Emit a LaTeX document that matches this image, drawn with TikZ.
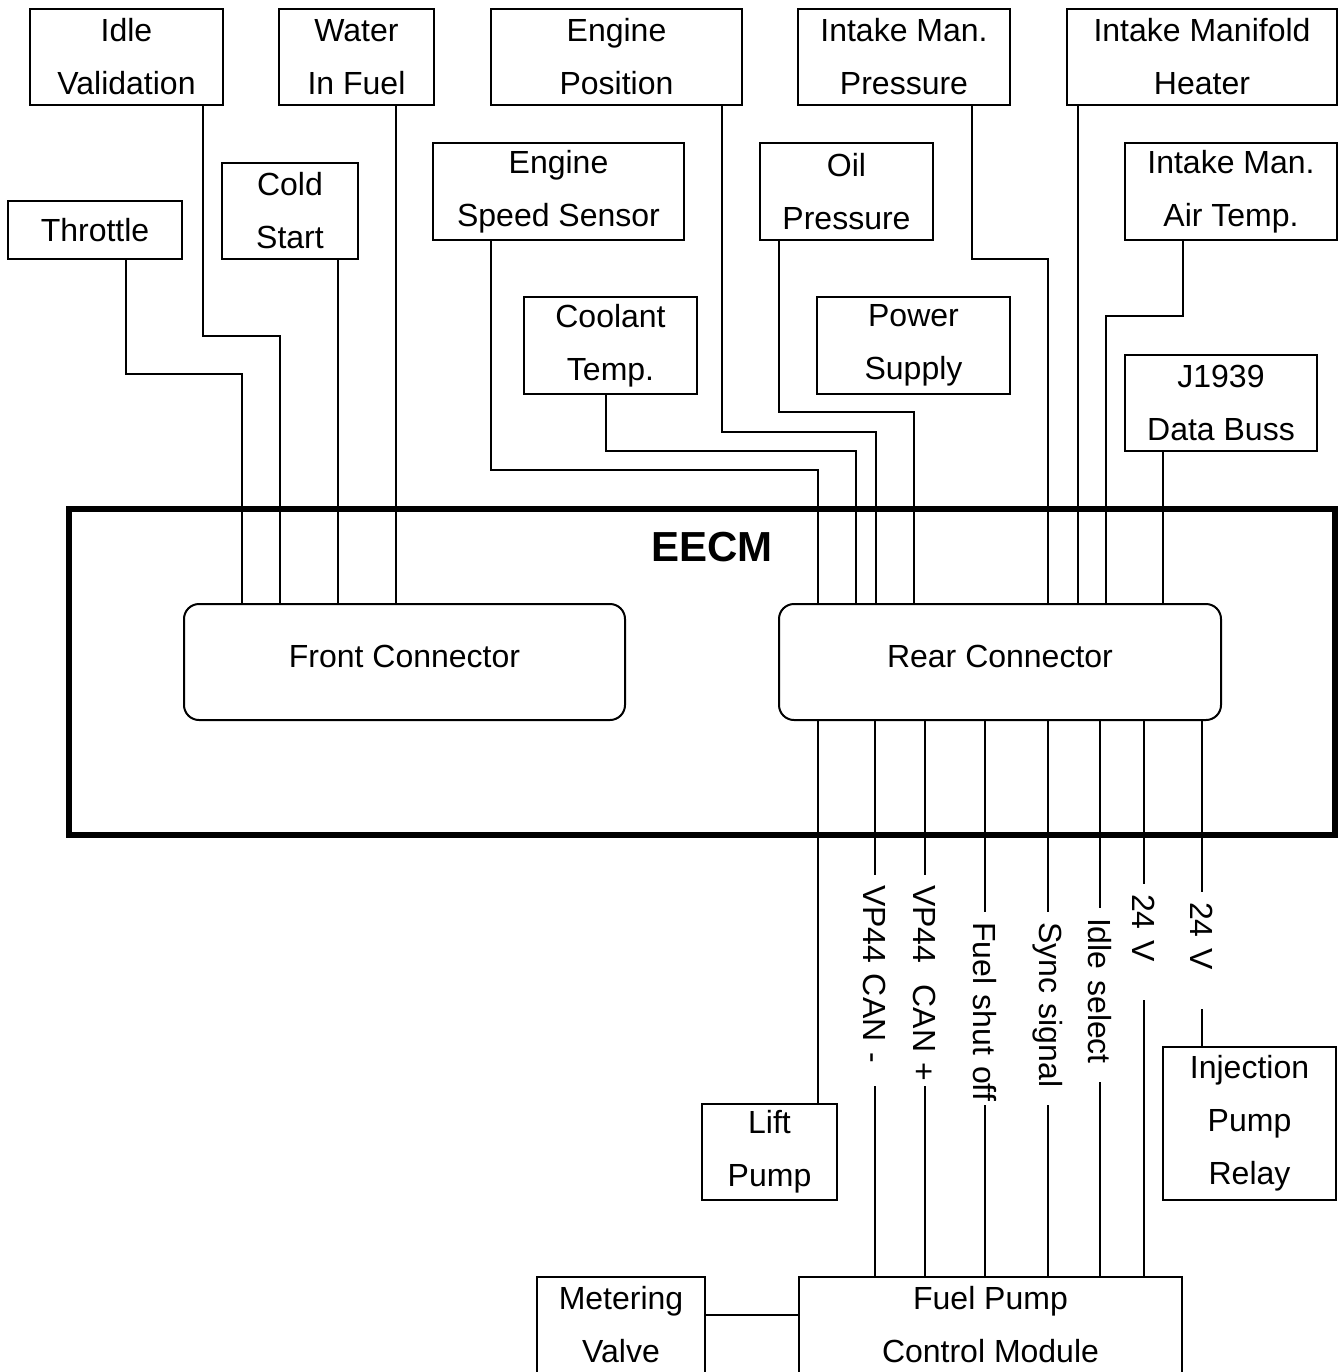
\documentclass[tikz,border=0pt]{standalone}
\usepackage{fontspec}
\setmainfont{Liberation Sans}
\usepackage{tikz}

\begin{document}
\begin{tikzpicture}[x=0.5pt, y=-0.5pt,
    every node/.style={font=\fontsize{16pt}{26.5pt}\selectfont, align=center, inner sep=0pt},
    box/.style 2 args={draw=black, line width=1pt, minimum width=#1*0.5pt, minimum height=#2*0.5pt},
    connbox/.style 2 args={box={#1}{#2}, rounded corners=7.5pt, text depth=6pt},
    wire/.style={line width=0.9pt},
    siglabel/.style 2 args={rotate=-90, inner xsep=5pt, text width=#2pt, align=left, minimum width=#1*0.5pt}]

        % Page frame, same size as the sketch
        \useasboundingbox (0,0) rectangle (1338,1372);
        \clip (0,0) rectangle (1338,1372);

        % Engine control module outline
        \node[draw=black, line width=3pt, minimum width=1266*0.5pt, minimum height=325.5*0.5pt] (eecm) at (702,671.75) {};
        \node[font=\fontsize{21pt}{25pt}\selectfont\bfseries] (eecmlabel) at (712,547) {EECM};

        % Connectors inside the module
        \node[connbox={441}{116}] (front) at (404.5,662) {Front Connector};
        \node[connbox={442}{116}] (rear) at (1000,662) {Rear Connector};

        % Sensors and actuators above the module
        \node[box={193}{96}] (idle) at (126.5,57) {Idle\\Validation};
        \node[box={155}{96}] (water) at (356.5,57) {Water\\In Fuel};
        \node[box={251}{96}] (engpos) at (616.5,57) {Engine\\Position};
        \node[box={212}{96}] (impress) at (904,57) {Intake Man.\\Pressure};
        \node[box={270}{96}] (imheater) at (1202,57) {Intake Manifold\\Heater};
        \node[box={174}{58}] (throttle) at (95,230) {Throttle};
        \node[box={136}{96}] (cold) at (290,211) {Cold\\Start};
        \node[box={251}{97}] (engspeed) at (558.5,191.5) {Engine\\Speed Sensor};
        \node[box={173}{97}] (oil) at (846.5,191.5) {Oil\\Pressure};
        \node[box={212}{97}] (imtemp) at (1231,191.5) {Intake Man.\\Air Temp.};
        \node[box={173}{97}] (coolant) at (610.5,345.5) {Coolant\\Temp.};
        \node[box={193}{97}] (power) at (913.5,345.5) {Power\\Supply};
        \node[box={192}{96}] (j1939) at (1221,403) {J1939\\Data Buss};

        % Devices below the module
        \node[box={135}{96}] (lift) at (769.5,1152) {Lift\\Pump};
        \node[box={173}{153}] (relay) at (1249.5,1123.5) {Injection\\Pump\\Relay};
        \node[box={168}{96}] (metering) at (621,1325) {Metering\\Valve};
        \node[box={383}{96}] (fpcm) at (990.5,1325) {Fuel Pump\\Control Module};

        % Sensor wires: source, x at source, elbow height, x at connector, connector
        \foreach \src/\xs/\ym/\xe/\dst in {throttle/126/374/242/front, idle/203/336/280/front,
            cold/338/500/338/front, water/396/500/396/front,
            engspeed/491/470/818/rear, coolant/606/451/856/rear, engpos/722/432/876/rear,
            oil/779/412/914/rear, impress/972/259/1048/rear, imheater/1078/500/1078/rear,
            imtemp/1183/316/1106/rear, j1939/1163/500/1163/rear} {
          \draw[wire] (\src.south -| \xs,0) -- (\xs,\ym) -- (\xe,\ym) -- (\dst.north -| \xe,0);
        }

        % Supply wire to the lift pump
        \draw[wire] (rear.south -| 818,0) -- (lift.north -| 818,0);

        % Signal wires down to the pump module, each broken by its label
        \foreach \xs/\yc/\gap/\txt/\dst in {875/980.5/211/{VP44 CAN -}/fpcm,
            925/980.5/211/{VP44\ \ CAN +}/fpcm, 985/1008.5/193/{Fuel shut off}/fpcm,
            1048/1008.5/193/{Sync signal}/fpcm, 1100/995/174/{Idle select}/fpcm,
            1144/942/116/{24 V}/fpcm, 1202/950.5/117/{24 V}/relay} {
          \pgfmathsetmacro\tw{(\gap-20)*0.5}
          \node[siglabel={\gap}{\tw}] (sig\xs) at (\xs,\yc) {\mbox{\txt}};
          \draw[wire] (rear.south -| \xs,0) -- (sig\xs) -- (\dst.north -| \xs,0);
        }

        % Metering valve link
        \draw[wire] ([yshift=5pt]metering.east) -- ([yshift=5pt]fpcm.west);

      \end{tikzpicture}
\end{document}
